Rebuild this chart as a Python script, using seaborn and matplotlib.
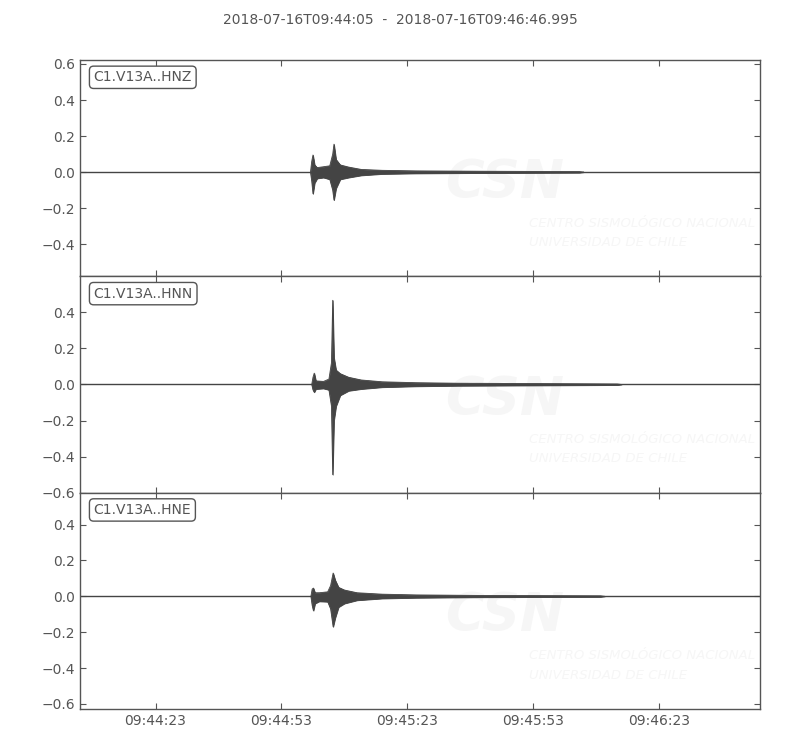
import matplotlib
matplotlib.use("Agg")
import matplotlib.pyplot as plt
import seaborn as sns
import pandas as pd

# ---- data (seconds after 2018-07-16T09:44:05) ----
title = "2018-07-16T09:44:05  -  2018-07-16T09:46:46.995"
trace_span = [0.0, 161.995]
channels = ["C1.V13A..HNZ", "C1.V13A..HNN", "C1.V13A..HNE"]

hnz_t  = [54.9, 55.2, 55.5, 55.9, 56.5, 58.0, 59.5, 60.2, 60.5, 61.0, 62.0, 64.0, 67.0, 72.0, 80.0, 95.0, 119.0, 120.0]
hnz_up = [0.0, 0.06, 0.095, 0.04, 0.025, 0.03, 0.035, 0.10, 0.155, 0.07, 0.04, 0.028, 0.015, 0.010, 0.007, 0.005, 0.003, 0.0]
hnz_lo = [0.0, -0.05, -0.12, -0.06, -0.035, -0.03, -0.04, -0.10, -0.155, -0.09, -0.04, -0.03, -0.018, -0.010, -0.007, -0.005, -0.003, 0.0]

hnn_t  = [55.2, 55.5, 55.8, 56.2, 58.0, 59.3, 59.9, 60.2, 60.5, 61.0, 62.0, 64.0, 67.0, 72.0, 80.0, 90.0, 110.0, 128.0, 129.0]
hnn_up = [0.0, 0.04, 0.063, 0.02, 0.017, 0.03, 0.12, 0.467, 0.15, 0.08, 0.06, 0.04, 0.025, 0.015, 0.010, 0.007, 0.005, 0.003, 0.0]
hnn_lo = [0.0, -0.03, -0.043, -0.025, -0.022, -0.03, -0.12, -0.50, -0.20, -0.12, -0.06, -0.035, -0.025, -0.015, -0.010, -0.007, -0.005, -0.003, 0.0]

hne_t  = [55.0, 55.3, 55.6, 56.0, 57.0, 59.0, 59.7, 60.3, 60.8, 61.6, 63.0, 66.0, 72.0, 80.0, 95.0, 124.0, 125.0]
hne_up = [0.0, 0.04, 0.046, 0.02, 0.02, 0.025, 0.06, 0.13, 0.09, 0.05, 0.035, 0.02, 0.012, 0.008, 0.005, 0.003, 0.0]
hne_lo = [0.0, -0.05, -0.08, -0.04, -0.028, -0.03, -0.07, -0.17, -0.12, -0.06, -0.04, -0.022, -0.012, -0.008, -0.005, -0.003, 0.0]

ylims = [(-0.578, 0.622), (-0.6, 0.6), (-0.628, 0.578)]
yticks = [[-0.4, -0.2, 0.0, 0.2, 0.4, 0.6],
          [-0.6, -0.4, -0.2, 0.0, 0.2, 0.4],
          [-0.6, -0.4, -0.2, 0.0, 0.2, 0.4]]
xtick_pos = [18, 48, 78, 108, 138]
xtick_labels = ["09:44:23", "09:44:53", "09:45:23", "09:45:53", "09:46:23"]

# ---- style ----
sns.set_style("ticks")
plt.rcParams["font.family"] = ["DejaVu Sans"]
grey = "#555555"
trace_col = "#444444"
wm_col = "#f6f6f6"
plt.rcParams.update({
    "axes.edgecolor": grey, "xtick.color": grey, "ytick.color": grey,
    "text.color": grey, "axes.labelcolor": grey,
    "xtick.direction": "in", "ytick.direction": "in",
    "xtick.major.size": 4, "ytick.major.size": 4,
    "xtick.top": True, "ytick.right": True,
    "axes.linewidth": 1.0,
})

fig = plt.figure(figsize=(8, 7.5), dpi=100)
gs = fig.add_gridspec(3, 1, left=0.1, right=0.95, top=0.92, bottom=0.0547, hspace=0)
axes = [fig.add_subplot(gs[i]) for i in range(3)]

envs = [(hnz_t, hnz_up, hnz_lo), (hnn_t, hnn_up, hnn_lo), (hne_t, hne_up, hne_lo)]
for i, ax in enumerate(axes):
    t, up, lo = envs[i]
    df = pd.DataFrame({"t": t, "up": up, "lo": lo})
    base = pd.DataFrame({"t": trace_span, "v": [0.0, 0.0]})
    sns.lineplot(data=base, x="t", y="v", ax=ax, color=trace_col, lw=1.0)
    ax.fill_between(df["t"], df["lo"], df["up"], color=trace_col, lw=0.6, edgecolor=trace_col)
    sns.lineplot(data=df, x="t", y="up", ax=ax, color=trace_col, lw=0.6)
    sns.lineplot(data=df, x="t", y="lo", ax=ax, color=trace_col, lw=0.6)

    ax.set_xlim(trace_span)
    ax.set_ylim(ylims[i])
    ax.set_yticks(yticks[i])
    ax.set_yticklabels([f"{v:.1f}".replace("-", "\u2212") for v in yticks[i]], fontsize=10)
    ax.set_xticks(xtick_pos)
    if i == 2:
        ax.set_xticklabels(xtick_labels, fontsize=10)
    else:
        ax.set_xticklabels([])
    ax.set_xlabel("")
    ax.set_ylabel("")
    ax.tick_params(which="both", top=True, right=True, direction="in")
    for s in ax.spines.values():
        s.set_visible(True)
        s.set_color(grey)

    # faint watermark
    ax.text(0.625, 0.43, "CSN", transform=ax.transAxes, ha="center", va="center",
            fontsize=38, fontweight="bold", style="italic", color=wm_col, zorder=0,
            clip_on=True)
    ax.text(0.66, 0.245, "CENTRO SISMOLÓGICO NACIONAL", transform=ax.transAxes,
            ha="left", va="center", fontsize=9.5, style="italic", color=wm_col, zorder=0,
            clip_on=True)
    ax.text(0.66, 0.157, "UNIVERSIDAD DE CHILE", transform=ax.transAxes,
            ha="left", va="center", fontsize=9.5, style="italic", color=wm_col, zorder=0,
            clip_on=True)

    ax.text(0.02, 0.92, channels[i], transform=ax.transAxes, ha="left", va="center",
            fontsize=10, color=grey,
            bbox=dict(boxstyle="round,pad=0.3", fc="white", ec=grey, lw=1.0))

fig.text(0.5, 0.973, title, ha="center", va="center", fontsize=10, color=grey)
fig.savefig("out.png", dpi=100)
